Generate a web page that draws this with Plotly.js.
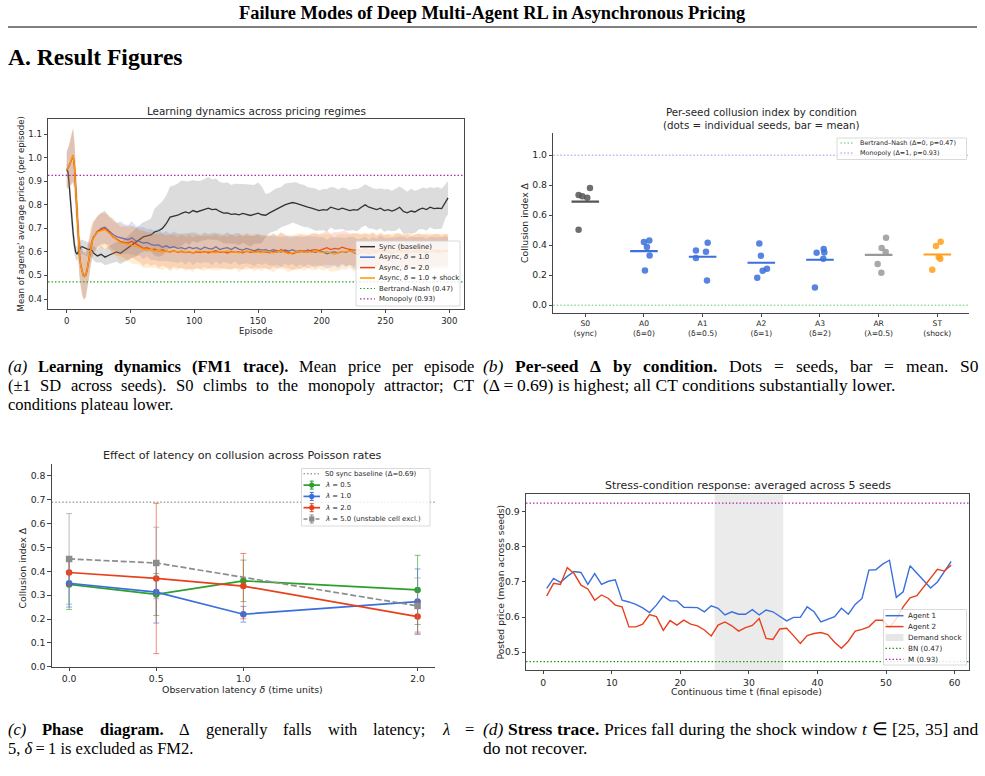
<!DOCTYPE html>
<html><head><meta charset="utf-8">
<script src="https://cdn.plot.ly/plotly-3.0.1.min.js"></script>
<style>html,body{margin:0;padding:0;background:#fff;}#chart{width:985px;height:776px;}</style>
</head><body><div id="chart"></div>
<script>
// ---------------- DATA ----------------
// (a) learning dynamics
const episodes = [0,1,2,3,4,5,6,7,8,9,10,11,12,13,14,15,16,17,18,19,20,21,22,23,24,
 27,30,33,36,39,42,45,48,51,54, 57,60,63,66,69,72,75,78,81,84, 87,90,93,96,99,102,105,108,111,114,
 117,120,123,126,129,132,135,138,141,144, 147,150,153,156,159,162,165,168,171,174,
 177,180,183,186,189,192,195,198,201,204, 207,210,213,216,219,222,225,228,231,234,
 237,240,243,246,249,252,255,258,261,264, 267,270,273,276,279,282,285,288,291,294, 297,299];
const syncMean = [0.95,0.94,0.88,0.80,0.73,0.68,0.63,0.60,0.59,0.60,0.615,0.62,0.622,0.62,0.617,0.615,0.612,0.61,0.612,0.61,0.605,0.595,0.59,0.585,0.583,
 0.590,0.578,0.586,0.592,0.600,0.594,0.606,0.615,0.628,0.640,
 0.652,0.664,0.668,0.672,0.685,0.690,0.700,0.720,0.748,0.752,
 0.756,0.764,0.770,0.765,0.776,0.770,0.775,0.780,0.786,0.780,
 0.782,0.772,0.765,0.766,0.760,0.762,0.758,0.764,0.760,0.755,
 0.760,0.765,0.758,0.756,0.766,0.775,0.782,0.790,0.800,0.805,
 0.810,0.806,0.800,0.796,0.790,0.786,0.780,0.776,0.780,0.778,
 0.790,0.784,0.780,0.786,0.780,0.776,0.780,0.778,0.790,0.800,
 0.790,0.785,0.780,0.786,0.776,0.780,0.774,0.780,0.790,0.772,
 0.766,0.774,0.770,0.780,0.786,0.780,0.790,0.784,0.786,0.784,
 0.815,0.830];
const syncSD = [0.03,0.03,0.04,0.05,0.05,0.05,0.04,0.03,0.03,0.03,0.03,0.03,0.03,0.03,0.03,0.03,0.03,0.03,0.03,0.03,0.03,0.03,0.03,0.03,0.03,
 0.035,0.035,0.038,0.04,0.042,0.045,0.048,0.05,0.055,0.06,
 0.06,0.062,0.065,0.07,0.10,0.11,0.115,0.12,0.13,0.13,
 0.135,0.14,0.13,0.135,0.13,0.132,0.128,0.13,0.132,0.128,
 0.13,0.125,0.128,0.13,0.125,0.128,0.13,0.125,0.128,0.132,
 0.125,0.13,0.12,0.09,0.085,0.088,0.09,0.085,0.09,0.088,
 0.085,0.09,0.088,0.09,0.085,0.088,0.09,0.085,0.088,0.09,
 0.086,0.09,0.085,0.088,0.09,0.086,0.088,0.09,0.086,0.088,
 0.09,0.086,0.088,0.085,0.09,0.088,0.086,0.09,0.088,0.095,
 0.09,0.095,0.09,0.085,0.088,0.09,0.085,0.088,0.09,0.085,
 0.07,0.07];
const async1Mean = [0.95,0.955,0.965,0.98,1.0,1.01,0.96,0.86,0.76,0.66,0.585,0.54,0.515,0.50,0.495,0.50,0.52,0.55,0.585,0.62,0.645,0.66,0.67,0.675,0.685,
 0.700,0.705,0.690,0.675,0.665,0.660,0.655,0.652,0.660,0.648,
 0.645,0.638,0.640,0.632,0.628,0.630,0.620,0.626,0.618,0.622,
 0.615,0.618,0.612,0.620,0.614,0.618,0.610,0.620,0.615,0.612,
 0.622,0.610,0.615,0.618,0.610,0.620,0.612,0.608,0.615,0.610,
 0.605,0.612,0.608,0.610,0.604,0.610,0.606,0.600,0.608,0.604,
 0.610,0.602,0.606,0.600,0.608,0.604,0.598,0.604,0.600,0.592,
 0.598,0.600,0.596,0.602,0.598,0.605,0.596,0.590,0.598,0.600,
 0.594,0.600,0.596,0.604,0.598,0.600,0.595,0.602,0.598,0.603,
 0.597,0.600,0.605,0.598,0.602,0.596,0.600,0.604,0.598,0.602,
 0.605,0.600];
const async1SD = [0.08,0.085,0.09,0.10,0.11,0.115,0.10,0.09,0.09,0.09,0.09,0.09,0.09,0.095,0.095,0.09,0.085,0.08,0.075,0.07,0.068,0.065,0.065,0.065,0.065,
 0.065,0.070,0.060,0.066,0.058,0.070,0.064,0.060,0.072,0.064,
 0.060,0.068,0.058,0.066,0.062,0.070,0.060,0.064,0.058,0.066,
 0.062,0.058,0.066,0.060,0.070,0.062,0.058,0.064,0.060,0.068,
 0.060,0.064,0.058,0.066,0.062,0.060,0.068,0.058,0.064,0.060,
 0.066,0.060,0.064,0.058,0.062,0.068,0.060,0.064,0.058,0.062,
 0.060,0.066,0.058,0.064,0.060,0.062,0.068,0.058,0.064,0.060,
 0.064,0.060,0.066,0.058,0.062,0.060,0.068,0.064,0.060,0.066,
 0.058,0.064,0.060,0.066,0.062,0.058,0.064,0.060,0.068,0.062,
 0.060,0.066,0.058,0.064,0.062,0.060,0.066,0.058,0.064,0.060,
 0.062,0.060];
const async2Mean = [0.95,0.955,0.97,0.985,1.0,1.01,0.97,0.88,0.77,0.67,0.59,0.545,0.515,0.50,0.50,0.505,0.53,0.565,0.60,0.63,0.65,0.665,0.67,0.68,0.688,
 0.695,0.700,0.685,0.665,0.655,0.645,0.640,0.638,0.645,0.635,
 0.625,0.615,0.618,0.610,0.612,0.605,0.610,0.602,0.600,0.605,
 0.598,0.602,0.597,0.600,0.595,0.600,0.597,0.602,0.596,0.600,
 0.605,0.598,0.600,0.595,0.602,0.598,0.600,0.596,0.603,0.598,
 0.600,0.604,0.598,0.600,0.596,0.602,0.598,0.610,0.602,0.596,
 0.592,0.598,0.600,0.604,0.600,0.608,0.610,0.606,0.612,0.618,
 0.610,0.615,0.612,0.620,0.614,0.612,0.608,0.610,0.605,0.612,
 0.606,0.610,0.604,0.608,0.602,0.606,0.600,0.604,0.608,0.602,
 0.606,0.600,0.604,0.608,0.602,0.606,0.600,0.604,0.608,0.602,
 0.606,0.604];
const async2SD = [0.07,0.08,0.09,0.10,0.105,0.11,0.10,0.09,0.09,0.09,0.09,0.09,0.095,0.10,0.10,0.095,0.09,0.085,0.08,0.075,0.07,0.068,0.066,0.065,0.065,
 0.070,0.064,0.072,0.066,0.070,0.062,0.068,0.074,0.066,0.070,
 0.068,0.074,0.066,0.070,0.064,0.072,0.068,0.066,0.074,0.068,
 0.066,0.072,0.068,0.074,0.066,0.070,0.072,0.066,0.070,0.068,
 0.072,0.066,0.070,0.068,0.074,0.066,0.070,0.072,0.066,0.070,
 0.068,0.074,0.066,0.070,0.072,0.066,0.068,0.074,0.070,0.066,
 0.070,0.068,0.074,0.066,0.070,0.072,0.066,0.070,0.068,0.074,
 0.066,0.070,0.072,0.068,0.074,0.066,0.070,0.068,0.072,0.066,
 0.070,0.074,0.066,0.070,0.068,0.072,0.066,0.074,0.070,0.068,
 0.072,0.066,0.070,0.068,0.074,0.066,0.070,0.072,0.068,0.066,
 0.070,0.068];
const shockMean = [0.95,0.955,0.968,0.982,1.0,1.012,0.965,0.87,0.765,0.665,0.585,0.54,0.512,0.498,0.497,0.503,0.525,0.558,0.595,0.625,0.645,0.66,0.668,0.676,0.684,
 0.690,0.695,0.680,0.668,0.652,0.640,0.636,0.632,0.630,0.625,
 0.620,0.612,0.608,0.612,0.604,0.608,0.600,0.604,0.598,0.603,
 0.600,0.605,0.598,0.602,0.596,0.604,0.600,0.598,0.603,0.600,
 0.596,0.602,0.600,0.604,0.598,0.600,0.596,0.602,0.600,0.604,
 0.598,0.600,0.596,0.602,0.598,0.596,0.600,0.604,0.598,0.592,
 0.596,0.600,0.604,0.598,0.602,0.598,0.604,0.600,0.598,0.602,
 0.596,0.590,0.598,0.602,0.600,0.604,0.598,0.602,0.600,0.604,
 0.598,0.602,0.600,0.604,0.598,0.602,0.600,0.604,0.598,0.602,
 0.600,0.604,0.598,0.602,0.600,0.604,0.598,0.602,0.600,0.604,
 0.600,0.602];
const shockSD = [0.08,0.085,0.09,0.10,0.11,0.12,0.105,0.095,0.09,0.09,0.09,0.095,0.10,0.10,0.10,0.095,0.09,0.085,0.08,0.075,0.072,0.07,0.068,0.068,0.068,
 0.075,0.080,0.070,0.078,0.072,0.082,0.074,0.070,0.080,0.076,
 0.072,0.080,0.074,0.078,0.070,0.082,0.076,0.072,0.080,0.074,
 0.078,0.072,0.080,0.074,0.082,0.070,0.076,0.080,0.072,0.078,
 0.074,0.080,0.072,0.078,0.076,0.070,0.082,0.074,0.078,0.072,
 0.080,0.074,0.078,0.070,0.076,0.082,0.072,0.078,0.074,0.080,
 0.072,0.078,0.074,0.080,0.070,0.076,0.082,0.072,0.078,0.074,
 0.080,0.072,0.078,0.074,0.076,0.070,0.082,0.078,0.072,0.080,
 0.074,0.078,0.072,0.080,0.076,0.070,0.078,0.074,0.082,0.076,
 0.072,0.080,0.074,0.078,0.070,0.076,0.080,0.072,0.078,0.074,
 0.076,0.074];
const bnPrice = 0.473, monoPrice = 0.925;

// (b) per-seed collusion index
const conditions = ['S0','A0','A1','A2','A3','AR','ST'];
const conditionSub = ['(sync)','(δ=0)','(δ=0.5)','(δ=1)','(δ=2)','(λ=0.5)','(shock)'];
const seedDelta = [
 [0.735,0.726,0.717,0.782,0.503],
 [0.421,0.432,0.388,0.332,0.232],
 [0.365,0.356,0.416,0.314,0.165],
 [0.412,0.330,0.229,0.243,0.183],
 [0.350,0.374,0.352,0.310,0.118],
 [0.450,0.381,0.354,0.274,0.216],
 [0.423,0.394,0.321,0.310,0.236]];
const seedJitter = [
 [-0.114,-0.051,0.034,0.080,-0.114],
 [0.000,0.091,0.051,0.097,0.017],
 [-0.114,0.057,0.086,-0.114,0.074],
 [-0.034,-0.006,0.023,0.097,-0.069],
 [-0.057,0.063,0.074,0.057,-0.086],
 [0.126,0.051,0.120,-0.017,0.046],
 [0.057,-0.023,0.023,0.051,-0.086]];
const condMean = [0.690,0.360,0.323,0.283,0.303,0.336,0.338];
const bnDelta = 0, monoDelta = 1;

// (c) phase diagram
const latency = [0.0, 0.5, 1.0, 2.0];
const lam05 = [0.345,0.303,0.360,0.322], lam05Err = [0.105,0.088,0.087,0.145];
const lam10 = [0.350,0.313,0.220,0.273], lam10Err = [0.100,0.130,0.033,0.137];
const lam20 = [0.395,0.370,0.338,0.210], lam20Err = [0.055,0.315,0.137,0.065];
const latency50 = [0.0, 0.5, 2.0];
const lam50 = [0.452,0.435,0.255], lam50Err = [0.190,0.150,0.117];
const s0Baseline = 0.69;

// (d) stress trace
const timeT = [0.5,1.5,2.5,3.5,4.5,5.5,6.5,7.5,8.5,9.5,10.5,11.5,12.5,13.5,14.5,15.5,16.5,17.5,18.5,19.5,
 20.5,21.5,22.5,23.5,24.5,25.5,26.5,27.5,28.5,29.5,30.5,31.5,32.5,33.5,34.5,35.5,36.5,37.5,38.5,39.5,
 40.5,41.5,42.5,43.5,44.5,45.5,46.5,47.5,48.5,49.5,50.5,51.5,52.5,53.5,54.5,55.5,56.5,57.5,58.5,59.5];
const agent1 = [0.682,0.710,0.699,0.716,0.730,0.727,0.693,0.724,0.693,0.702,0.706,0.648,0.643,0.636,0.626,0.613,0.634,0.660,0.646,0.646,
 0.628,0.628,0.627,0.615,0.632,0.625,0.606,0.615,0.608,0.608,0.621,0.606,0.620,0.615,0.601,0.589,0.599,0.599,0.629,0.615,
 0.586,0.593,0.601,0.625,0.608,0.636,0.653,0.734,0.735,0.751,0.762,0.656,0.672,0.746,0.724,0.705,0.683,0.700,0.729,0.759];
const agent2 = [0.660,0.696,0.693,0.741,0.724,0.691,0.680,0.648,0.663,0.653,0.634,0.629,0.572,0.572,0.580,0.607,0.601,0.562,0.590,0.577,
 0.591,0.580,0.575,0.563,0.546,0.577,0.586,0.575,0.560,0.570,0.576,0.596,0.539,0.536,0.566,0.568,0.547,0.525,0.547,0.553,
 0.556,0.550,0.528,0.511,0.531,0.560,0.565,0.572,0.591,0.591,0.570,0.595,0.629,0.655,0.661,0.686,0.710,0.736,0.731,0.748];
const shockWindow = [25, 35];
const bnStress = 0.473, monoStress = 0.925;

// ---------------- STYLE / HELPERS ----------------
const W = 985, H = 776;
const PX = x => x / W, PY = y => 1 - y / H;
const SANS = 'DejaVu Sans', SERIF = 'Liberation Serif';
const COL = {sync:'#333333', blue:'#3a6fdc', red:'#e8401c', orange:'#ff9900', green:'#2ca02c', gray:'#8c8c8c', purple:'#b02eb0'};
const TXT = '#262626';
const traces = [], shapes = [], annotations = [];

function rgba(hex, a){ const n=parseInt(hex.slice(1),16); return `rgba(${n>>16},${(n>>8)&255},${n&255},${a})`; }
function band(x, m, sd, color, alpha, xa, ya){
  const n = Math.min(x.length, m.length, sd.length);
  const xs=[], ys=[];
  for(let i=0;i<n;i++){ xs.push(x[i]); ys.push(m[i]+sd[i]); }
  for(let i=n-1;i>=0;i--){ xs.push(x[i]); ys.push(m[i]-sd[i]); }
  traces.push({type:'scatter', mode:'lines', x:xs, y:ys, fill:'toself', fillcolor:rgba(color,alpha), line:{width:0, color:rgba(color,0)}, hoverinfo:'skip', showlegend:false, xaxis:xa, yaxis:ya});
}
function line(x, y, color, width, xa, ya, extra){
  traces.push(Object.assign({type:'scatter', mode:'lines', x:x, y:y, line:{color:color, width:width}, showlegend:false, hoverinfo:'skip', xaxis:xa, yaxis:ya}, extra||{}));
}
function hline(axisX, axisY, yv, color, width, dash){
  shapes.push({type:'line', xref:axisX+' domain', yref:axisY, x0:0, x1:1, y0:yv, y1:yv, line:{color:color, width:width, dash:dash}, layer:'above'});
}
function text(x, y, t, size, opt){
  opt = opt || {};
  annotations.push({xref:'paper', yref:'paper', x:PX(x), y:PY(y), text:t, showarrow:false,
    xanchor:opt.xanchor||'center', yanchor:opt.yanchor||'middle', textangle:opt.angle||0,
    font:{family:opt.family||SANS, size:size, color:opt.color||TXT}, borderpad:0, borderwidth:0});
}
// justified serif caption line: words placed with equal gaps between x0 and x1
const measureCtx = document.createElement('canvas').getContext('2d');
function justify(x0, x1, y, words, size){
  const widths = words.map(([w, s]) => {
    measureCtx.font = (s==='i'?'italic ':'') + (s==='b'?'bold ':'') + size + 'px "Liberation Serif"';
    return measureCtx.measureText(w).width;
  });
  const total = widths.reduce((a,b)=>a+b, 0);
  const gap = (x1 - x0 - total) / (words.length - 1);
  let x = x0;
  words.forEach(([w, s], i) => {
    const t = s==='i' ? '<i>'+w+'</i>' : s==='b' ? '<b>'+w+'</b>' : w;
    text(x, y, t, size, {family:SERIF, color:'#000', xanchor:'left'});
    x += widths[i] + gap;
  });
}
function legendBox(cfg){
  shapes.push({type:'rect', xref:'paper', yref:'paper', x0:PX(cfg.x0), x1:PX(cfg.x1), y0:PY(cfg.y1), y1:PY(cfg.y0),
    fillcolor:'rgba(255,255,255,0.82)', line:{color:'#d0d0d0', width:0.8}, layer:'above'});
  cfg.entries.forEach((e,i)=>{
    const y = cfg.rowY0 + i*cfg.rowH;
    const S = (o)=>shapes.push(Object.assign({xref:'paper', yref:'paper', layer:'above'}, o));
    if(e.kind==='patch'){
      S({type:'rect', x0:PX(cfg.sx0), x1:PX(cfg.sx1), y0:PY(y+3.5), y1:PY(y-3.5), fillcolor:e.color, line:{width:0}});
    } else {
      S({type:'line', x0:PX(cfg.sx0), x1:PX(cfg.sx1), y0:PY(y), y1:PY(y), line:{color:e.color, width:e.width||1.5, dash:e.dash||'solid'}});
      if(e.marker){
        const xm=(cfg.sx0+cfg.sx1)/2;
        S({type:'line', x0:PX(xm), x1:PX(xm), y0:PY(y-4), y1:PY(y+4), line:{color:e.color, width:1}});
        S({type:'line', x0:PX(xm-2), x1:PX(xm+2), y0:PY(y-4), y1:PY(y-4), line:{color:e.color, width:1}});
        S({type:'line', x0:PX(xm-2), x1:PX(xm+2), y0:PY(y+4), y1:PY(y+4), line:{color:e.color, width:1}});
        S({type:e.marker==='square'?'rect':'circle', x0:PX(xm-2.6), x1:PX(xm+2.6), y0:PY(y+2.6), y1:PY(y-2.6), fillcolor:e.color, line:{width:0}});
      }
    }
    text(cfg.tx, y, e.label, cfg.size, {xanchor:'left'});
  });
}
const dotted = '1.5px,2px';

// ---------------- PANEL (a) ----------------
band(episodes, syncMean, syncSD, '#808080', 0.28, 'x', 'y');
line(episodes, syncMean, COL.sync, 1.3, 'x', 'y');
band(episodes, async1Mean, async1SD, COL.blue, 0.18, 'x', 'y');
line(episodes, async1Mean, COL.blue, 1.3, 'x', 'y');
band(episodes, async2Mean, async2SD, COL.red, 0.16, 'x', 'y');
line(episodes, async2Mean, COL.red, 1.3, 'x', 'y');
band(episodes, shockMean, shockSD, COL.orange, 0.17, 'x', 'y');
line(episodes, shockMean, COL.orange, 1.3, 'x', 'y');
hline('x','y', bnPrice, COL.green, 1.2, dotted);
hline('x','y', monoPrice, COL.purple, 1.2, dotted);

// ---------------- PANEL (b) ----------------
hline('x2','y2', bnDelta, '#5cc85c', 1, dotted);
hline('x2','y2', monoDelta, '#a98be0', 1, dotted);
const condColor = ['#555555', COL.blue, COL.blue, COL.blue, COL.blue, '#999999', '#ff9f1c'];
conditions.forEach((c,i)=>{
  traces.push({type:'scatter', mode:'markers', x:seedJitter[i].map(j=>i+j), y:seedDelta[i], xaxis:'x2', yaxis:'y2',
    marker:{size:6.5, color:condColor[i], opacity:0.85}, showlegend:false, hoverinfo:'skip'});
  traces.push({type:'scatter', mode:'lines', x:[i-0.235, i+0.235], y:[condMean[i], condMean[i]], xaxis:'x2', yaxis:'y2',
    line:{color:condColor[i], width:2.2}, showlegend:false, hoverinfo:'skip'});
});

// ---------------- PANEL (c) ----------------
hline('x3','y3', s0Baseline, '#777777', 1, dotted);
function errSeries(x, y, err, color, symbol, dash){
  traces.push({type:'scatter', mode:'lines+markers', x:x, y:y, xaxis:'x3', yaxis:'y3',
    line:{color:color, width:1.7, dash:dash||'solid'}, marker:{color:color, size:6.5, symbol:symbol},
    error_y:{type:'data', array:err, visible:true, color:rgba(color,0.6), thickness:1, width:3},
    showlegend:false, hoverinfo:'skip'});
}
errSeries(latency, lam05, lam05Err, COL.green, 'circle');
errSeries(latency, lam10, lam10Err, COL.blue, 'circle');
errSeries(latency, lam20, lam20Err, COL.red, 'circle');
errSeries(latency50, lam50, lam50Err, '#8c8c8c', 'square', '6px,2.6px');

// ---------------- PANEL (d) ----------------
shapes.push({type:'rect', xref:'x4', yref:'y4 domain', x0:shockWindow[0], x1:shockWindow[1], y0:0, y1:1, fillcolor:'#ebebeb', line:{width:0}, layer:'below'});
line(timeT, agent1, COL.blue, 1.4, 'x4', 'y4');
line(timeT, agent2, COL.red, 1.4, 'x4', 'y4');
hline('x4','y4', bnStress, '#1f9a1f', 1.2, dotted);
hline('x4','y4', monoStress, COL.purple, 1.2, dotted);

// ---------------- LEGENDS ----------------
legendBox({x0:356, y0:241, x1:460, y1:306, rowY0:246.7, rowH:10.45, sx0:360, sx1:375, tx:378.5, size:6.9, entries:[
  {label:'Sync (baseline)', color:COL.sync},
  {label:'Async, <i>δ</i> = 1.0', color:COL.blue},
  {label:'Async, <i>δ</i> = 2.0', color:COL.red},
  {label:'Async, <i>δ</i> = 1.0 + shock', color:COL.orange},
  {label:'Bertrand–Nash (0.47)', color:COL.green, dash:dotted, width:1.2},
  {label:'Monopoly (0.93)', color:COL.purple, dash:dotted, width:1.2}]});
legendBox({x0:837, y0:138, x1:966.5, y1:159.5, rowY0:143, rowH:10, sx0:840.5, sx1:853.5, tx:860, size:6.4, entries:[
  {label:'Bertrand–Nash (Δ=0, p=0.47)', color:'#5cc85c', dash:dotted, width:1},
  {label:'Monopoly (Δ=1, p=0.93)', color:'#a98be0', dash:dotted, width:1}]});
legendBox({x0:301.5, y0:468.5, x1:430, y1:526, rowY0:473.8, rowH:11.3, sx0:303.5, sx1:320, tx:325, size:6.9, entries:[
  {label:'S0 sync baseline (Δ=0.69)', color:'#777777', dash:dotted, width:1},
  {label:'<i>λ</i> = 0.5', color:COL.green, marker:'circle', width:1.7},
  {label:'<i>λ</i> = 1.0', color:COL.blue, marker:'circle', width:1.7},
  {label:'<i>λ</i> = 2.0', color:COL.red, marker:'circle', width:1.7},
  {label:'<i>λ</i> = 5.0 (unstable cell excl.)', color:'#8c8c8c', marker:'square', width:1.7, dash:'4px,2px'}]});
legendBox({x0:883.5, y0:609.5, x1:966.5, y1:665, rowY0:615.7, rowH:10.9, sx0:885.5, sx1:903.5, tx:908, size:7.2, entries:[
  {label:'Agent 1', color:COL.blue},
  {label:'Agent 2', color:COL.red},
  {label:'Demand shock', kind:'patch', color:'#e6e6e6'},
  {label:'BN (0.47)', color:'#1f9a1f', dash:dotted, width:1.2},
  {label:'M (0.93)', color:COL.purple, dash:dotted, width:1.2}]});

// ---------------- TITLES / LABELS ----------------
text(256, 111, 'Learning dynamics across pricing regimes', 10.4);
text(20.5, 214, "Mean of agents' average prices (per episode)", 8.6, {angle:-90});
text(256, 331, 'Episode', 8.6);
text(761.5, 118, 'Per-seed collusion index by condition<br>(dots = individual seeds, bar = mean)', 10.3);
text(525, 223, 'Collusion index Δ', 9.3, {angle:-90});
text(242.7, 455, 'Effect of latency on collusion across Poisson rates', 11.2);
text(21.5, 568, 'Collusion index Δ', 9.4, {angle:-90});
text(242.7, 689, 'Observation latency <i>δ</i> (time units)', 9.4);
text(748, 485.7, 'Stress-condition response: averaged across 5 seeds', 11.0);
text(499.5, 582, 'Posted price (mean across seeds)', 9.2, {angle:-90});
text(746.7, 691.7, 'Continuous time t (final episode)', 9.2);

// page text
text(492.5, 13, '<b>Failure Modes of Deep Multi-Agent RL in Asynchronous Pricing</b>', 18.4, {family:SERIF, color:'#000'});
shapes.push({type:'line', xref:'paper', yref:'paper', x0:PX(8), x1:PX(977), y0:PY(27), y1:PY(27), line:{color:'#000', width:1}});
text(8, 57, '<b>A. Result Figures</b>', 23.6, {family:SERIF, color:'#000', xanchor:'left'});
const capL = 16.5, capR = 17.5, capOpt = {family:SERIF, color:'#000', xanchor:'left'};
justify(8, 474, 366, [['(a)','i'],['Learning','b'],['dynamics','b'],['(FM1','b'],['trace).','b'],['Mean',''],['price',''],['per',''],['episode','']], capL);
justify(8, 474, 385, [['(±1',''],['SD',''],['across',''],['seeds).',''],['S0',''],['climbs',''],['to',''],['the',''],['monopoly',''],['attractor;',''],['CT','']], capL);
text(8, 404, 'conditions plateau lower.', capL, capOpt);
justify(483, 978, 366, [['(b)','i'],['Per-seed','b'],['Δ','b'],['by','b'],['condition.','b'],['Dots',''],['=',''],['seeds,',''],['bar',''],['=',''],['mean.',''],['S0','']], capR);
text(483, 385, '(Δ\u2009=\u20090.69) is highest; all CT conditions substantially lower.', capR, capOpt);
justify(8, 474, 729, [['(c)','i'],['Phase','b'],['diagram.','b'],['Δ',''],['generally',''],['falls',''],['with',''],['latency;',''],['λ','i'],['=','']], capL);
text(8, 748, '5, <i>δ</i>\u2009=\u20091 is excluded as FM2.', capL, capOpt);
justify(483, 978, 729, [['(d)','i'],['Stress','b'],['trace.','b'],['Prices',''],['fall',''],['during',''],['the',''],['shock',''],['window',''],['t','i'],['∈',''],['[25,',''],['35]',''],['and','']], capR);
text(483, 748, 'do not recover.', capR, capOpt);

// ---------------- AXES ----------------
function ax(domain, range, extra){
  return Object.assign({domain:domain, range:range, showgrid:false, zeroline:false, showline:true, linecolor:'#333', linewidth:0.9,
    ticks:'outside', ticklen:3.5, tickwidth:0.9, tickcolor:'#333', tickfont:{family:SANS, size:8.6, color:TXT}, fixedrange:true}, extra||{});
}
const bigTick = {family:SANS, size:9.3, color:TXT};
const layout = {
  width:W, height:H, margin:{l:0, r:0, t:0, b:0}, paper_bgcolor:'#fff', plot_bgcolor:'rgba(0,0,0,0)',
  showlegend:false, font:{family:SANS, color:TXT},
  xaxis: ax([PX(48), PX(464)], [-14.7, 311.5], {anchor:'y', mirror:true, tickvals:[0,50,100,150,200,250,300]}),
  yaxis: ax([PY(309), PY(119)], [0.3575, 1.165], {anchor:'x', mirror:true, tickvals:[0.4,0.5,0.6,0.7,0.8,0.9,1.0,1.1], tickformat:'.1f'}),
  xaxis2: ax([PX(553.3), PX(969)], [-0.545, 6.54], {anchor:'y2', tickvals:[0,1,2,3,4,5,6],
    ticktext:conditions.map((c,i)=>c+'<br>'+conditionSub[i]), tickfont:{family:SANS, size:7.6, color:TXT}}),
  yaxis2: ax([PY(312.7), PY(132.7)], [-0.05, 1.15], {anchor:'x2', tickvals:[0,0.2,0.4,0.6,0.8,1.0], tickformat:'.1f', tickfont:bigTick}),
  xaxis3: ax([PX(51.7), PX(435)], [-0.1, 2.1], {anchor:'y3', tickvals:latency, tickformat:'.1f', tickfont:bigTick}),
  yaxis3: ax([PY(666.7), PY(464)], [0, 0.85], {anchor:'x3', tickvals:[0,0.1,0.2,0.3,0.4,0.5,0.6,0.7,0.8], tickformat:'.1f', tickfont:bigTick}),
  xaxis4: ax([PX(526), PX(968.7)], [-2.52, 62.06], {anchor:'y4', mirror:true, tickvals:[0,10,20,30,40,50,60], tickfont:bigTick}),
  yaxis4: ax([PY(670), PY(494.3)], [0.449, 0.95], {anchor:'x4', mirror:true, tickvals:[0.5,0.6,0.7,0.8,0.9], tickformat:'.1f', tickfont:bigTick}),
  shapes:shapes, annotations:annotations
};
Plotly.newPlot('chart', traces, layout, {displayModeBar:false, staticPlot:true});
</script></body></html>
